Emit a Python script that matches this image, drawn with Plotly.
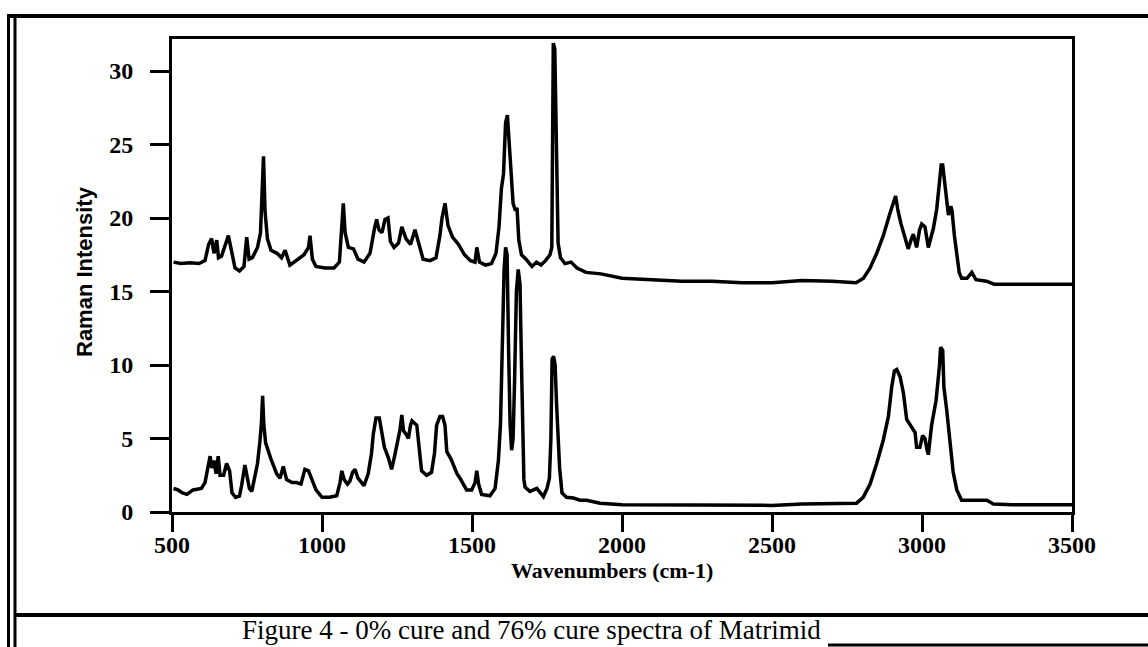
import plotly.graph_objects as go

# ---- data ----
upper_x = [505, 530, 560, 590, 610, 622, 632, 640, 649, 655, 665, 678, 688, 698, 710, 725, 740, 749, 757, 768,
           785, 795, 800, 805, 810, 818, 830, 850, 865, 877, 893, 915, 940, 955, 960, 968, 980, 1010, 1040, 1058,
           1066, 1071, 1077, 1088, 1105, 1120, 1140, 1160, 1175, 1182, 1190, 1200, 1210, 1220, 1228, 1240, 1255,
           1266, 1280, 1295, 1310, 1322, 1337, 1360, 1380, 1393, 1400, 1410, 1420, 1435, 1455, 1475, 1495, 1510,
           1516, 1525, 1545, 1565, 1580, 1590, 1598, 1605, 1612, 1618, 1623, 1630, 1637, 1645, 1650, 1656, 1665,
           1680, 1700, 1715, 1730, 1745, 1760, 1766, 1771, 1776, 1782, 1787, 1795, 1810, 1830, 1850, 1880, 1930,
           2000, 2100, 2200, 2300, 2400, 2500, 2600, 2700, 2780, 2805, 2827, 2849, 2871, 2893, 2905, 2912, 2920,
           2930, 2943, 2954, 2965, 2971, 2982, 2992, 2999, 3010, 3021, 3030, 3038, 3049, 3058, 3064, 3069, 3074,
           3079, 3088, 3096, 3100, 3108, 3116, 3124, 3132, 3150, 3166, 3180, 3215, 3240, 3300, 3400, 3500]
upper_y = [17.0, 16.9, 16.95, 16.9, 17.1, 18.2, 18.6, 17.6, 18.5, 17.3, 17.4, 18.3, 18.8, 17.8, 16.6, 16.4, 16.7,
           18.7, 17.2, 17.3, 18.0, 19.0, 21.5, 24.2, 20.5, 18.6, 17.8, 17.6, 17.3, 17.8, 16.8, 17.1, 17.5, 18.0,
           18.8, 17.2, 16.7, 16.6, 16.6, 17.0, 19.5, 21.0, 19.0, 18.0, 17.9, 17.2, 17.0, 17.6, 19.3, 19.9, 19.2,
           19.0, 19.9, 20.0, 18.4, 18.0, 18.3, 19.4, 18.6, 18.2, 19.2, 18.3, 17.2, 17.1, 17.3, 18.8, 20.0, 21.0,
           19.5, 18.7, 18.2, 17.5, 17.1, 17.0, 18.0, 17.0, 16.8, 16.9, 17.6, 19.4, 22.0, 23.0, 26.5, 27.0, 25.5,
           23.7, 21.0, 20.5, 20.7, 18.5, 17.5, 17.2, 16.7, 17.0, 16.8, 17.1, 17.5, 18.0, 31.9, 31.5, 24.0, 18.3,
           17.3, 16.9, 17.0, 16.6, 16.3, 16.2, 15.9, 15.8, 15.7, 15.7, 15.6, 15.6, 15.75, 15.7, 15.6, 15.9, 16.6,
           17.6, 18.8, 20.3, 21.2, 21.5, 20.5, 19.6, 18.7, 17.9, 18.6, 18.9, 18.0, 19.2, 19.6, 19.4, 18.0, 18.6,
           19.3, 20.6, 22.8, 23.6, 23.6, 22.6, 21.5, 20.2, 20.8, 20.5, 18.8, 17.4, 16.3, 15.9, 15.9, 16.3, 15.8,
           15.7, 15.5, 15.5, 15.5, 15.5]

lower_x = [505, 520, 535, 550, 570, 598, 610, 618, 627, 633, 640, 647, 654, 660, 672, 682, 692, 700, 712, 725,
           732, 743, 750, 758, 766, 775, 785, 793, 798, 802, 806, 812, 820, 830, 849, 860, 871, 882, 900, 915,
           930, 943, 955, 965, 980, 1000, 1025, 1049, 1060, 1066, 1074, 1085, 1093, 1102, 1110, 1120, 1130, 1140,
           1154, 1165, 1171, 1180, 1191, 1200, 1208, 1221, 1232, 1242, 1252, 1260, 1266, 1272, 1280, 1288, 1295,
           1300, 1316, 1325, 1332, 1349, 1365, 1375, 1382, 1393, 1402, 1410, 1416, 1430, 1438, 1450, 1460, 1470,
           1482, 1499, 1510, 1516, 1522, 1532, 1560, 1577, 1588, 1595, 1602, 1607, 1612, 1617, 1622, 1627, 1632,
           1637, 1642, 1648, 1654, 1660, 1665, 1669, 1673, 1677, 1693, 1716, 1738, 1750, 1758, 1763, 1767, 1772,
           1777, 1782, 1788, 1792, 1800, 1815, 1838, 1860, 1882, 1927, 2000, 2100, 2200, 2300, 2400, 2500, 2600,
           2700, 2782, 2804, 2827, 2849, 2871, 2888, 2899, 2908, 2916, 2927, 2938, 2949, 2960, 2970, 2977, 2982,
           2993, 3002, 3010, 3016, 3021, 3032, 3047, 3058, 3062, 3069, 3073, 3082, 3093, 3104, 3116, 3132, 3171,
           3200, 3216, 3238, 3300, 3400, 3500]
lower_y = [1.6, 1.5, 1.3, 1.2, 1.5, 1.6, 2.0, 2.8, 3.8, 3.0, 3.5, 2.6, 3.8, 2.5, 2.5, 3.3, 2.8, 1.3, 1.0, 1.1,
           1.8, 3.2, 2.5, 1.6, 1.4, 2.2, 3.3, 4.8, 6.0, 7.9, 6.0, 4.7, 4.2, 3.6, 2.6, 2.3, 3.1, 2.2, 2.0, 2.0,
           1.9, 2.9, 2.8, 2.3, 1.5, 1.0, 1.0, 1.1, 2.0, 2.8, 2.2, 1.9, 2.1, 2.7, 2.9, 2.3, 2.0, 1.8, 2.6, 4.0,
           5.3, 6.4, 6.4, 5.2, 4.4, 3.7, 2.9, 3.8, 4.8, 5.6, 6.6, 5.5, 5.3, 5.0, 5.9, 6.2, 5.9, 3.8, 2.8, 2.5,
           2.7, 4.0, 5.9, 6.5, 6.5, 5.9, 4.1, 3.6, 3.2, 2.6, 2.3, 1.9, 1.5, 1.5, 2.0, 2.8, 1.9, 1.2, 1.1, 1.6,
           3.5, 6.0, 12.0, 16.5, 18.0, 17.5, 11.0, 6.0, 4.2, 5.0, 9.0, 15.0, 16.5, 15.5, 10.0, 4.0, 2.2, 1.7,
           1.4, 1.6, 1.05, 1.6, 2.3, 5.0, 10.4, 10.6, 10.0, 7.3, 4.5, 3.0, 1.3, 1.0, 0.95, 0.8, 0.8, 0.6, 0.5,
           0.5, 0.45, 0.48, 0.5, 0.45, 0.55, 0.55, 0.6, 1.0, 1.9, 3.3, 4.9, 6.5, 8.5, 9.6, 9.7, 9.2, 8.1, 6.3,
           5.9, 5.6, 5.4, 4.4, 4.4, 5.2, 5.0, 4.3, 3.9, 5.9, 7.6, 9.9, 11.2, 11.0, 8.5, 7.0, 4.7, 2.7, 1.5, 0.8,
           0.8, 0.8, 0.8, 0.55, 0.5, 0.5, 0.5]

x_ticks = [500, 1000, 1500, 2000, 2500, 3000, 3500]
y_ticks = [0, 5, 10, 15, 20, 25, 30]
x_title = "Wavenumbers (cm-1)"
y_title = "Raman Intensity"
caption = "Figure 4 - 0% cure and 76% cure spectra of Matrimid"

# ---- figure geometry (pixels) ----
W, H = 1148, 647
L, R, T, B = 172, 1072, 39, 512
PW, PH = R - L, B - T


def px(x):
    return (x - L) / PW


def py(y):
    return (B - y) / PH


fig = go.Figure()
for xs, ys in [(upper_x, upper_y), (lower_x, lower_y)]:
    fig.add_trace(go.Scatter(x=xs, y=ys, mode="lines",
                             line=dict(color="black", width=3.5),
                             showlegend=False, hoverinfo="skip"))

tickfont = dict(family="Liberation Serif", size=24, color="black", weight="bold")
fig.update_xaxes(range=[500, 3500], tickvals=x_ticks, ticks="outside", ticklen=17, tickwidth=3,
                 tickcolor="black", showline=True, linewidth=3, linecolor="black", mirror=True,
                 showgrid=False, zeroline=False, tickfont=tickfont, ticklabelstandoff=-8)
fig.update_yaxes(range=[0, 32.18], tickvals=y_ticks, ticks="outside", ticklen=19, tickwidth=3,
                 tickcolor="black", showline=True, linewidth=3, linecolor="black", mirror=True,
                 showgrid=False, zeroline=False, tickfont=tickfont, ticklabelstandoff=12)

shapes = [
    dict(type="line", xref="paper", yref="paper", x0=px(7), x1=px(1148), y0=py(16), y1=py(16),
         line=dict(color="black", width=4)),
    dict(type="line", xref="paper", yref="paper", x0=px(8.5), x1=px(8.5), y0=py(16), y1=py(647),
         line=dict(color="black", width=3)),
    dict(type="line", xref="paper", yref="paper", x0=px(15), x1=px(15), y0=py(16), y1=py(647),
         line=dict(color="black", width=3)),
    dict(type="line", xref="paper", yref="paper", x0=px(15), x1=px(1148), y0=py(615), y1=py(615),
         line=dict(color="black", width=4)),
    dict(type="line", xref="paper", yref="paper", x0=px(828), x1=px(1148), y0=py(645), y1=py(645),
         line=dict(color="black", width=3)),
]

annotations = [
    dict(text=y_title, xref="paper", yref="paper", x=px(84), y=py(272), showarrow=False, textangle=-90,
         xanchor="center", yanchor="middle",
         font=dict(family="Liberation Sans", size=22, color="black", weight="bold")),
    dict(text=x_title, xref="paper", yref="paper", x=px(612), y=py(570), showarrow=False,
         xanchor="center", yanchor="middle",
         font=dict(family="Liberation Serif", size=22, color="black", weight="bold")),
    dict(text=caption, xref="paper", yref="paper", x=px(240), y=py(630), showarrow=False,
         xanchor="left", yanchor="middle",
         font=dict(family="Liberation Serif", size=27, color="black")),
]

fig.update_layout(width=W, height=H, margin=dict(l=L, r=W - R, t=T, b=H - B, pad=0),
                  paper_bgcolor="white", plot_bgcolor="white",
                  shapes=shapes, annotations=annotations)

fig.write_html("out.html")
